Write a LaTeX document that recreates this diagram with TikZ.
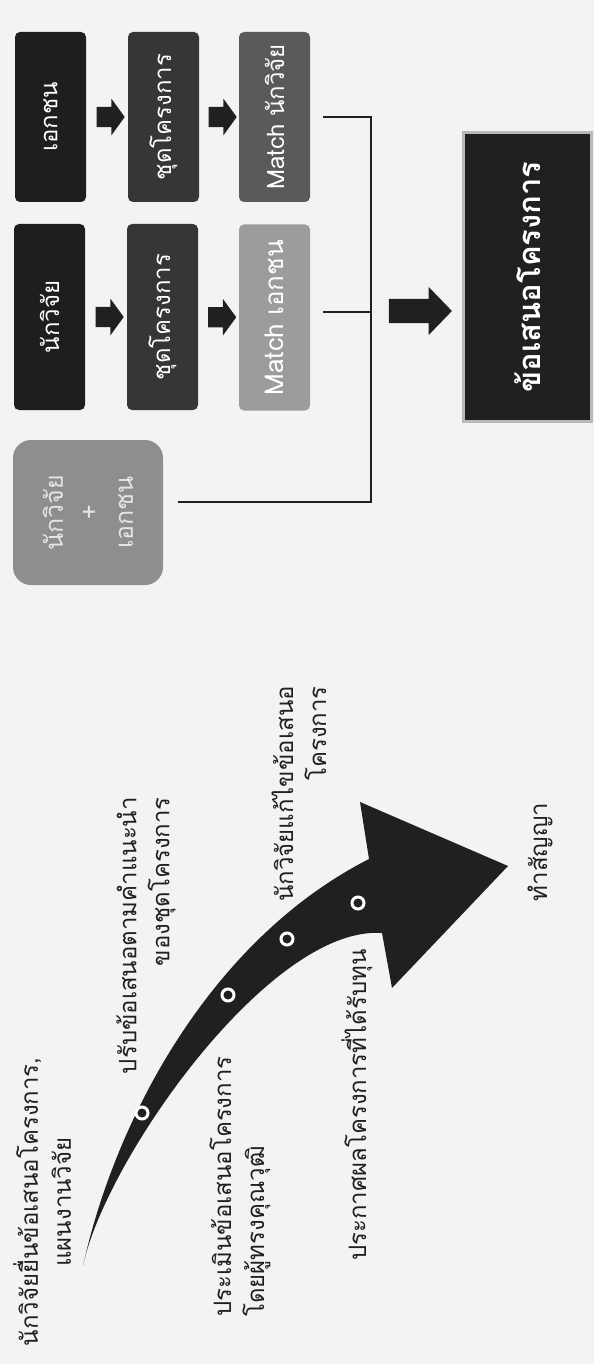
\documentclass[tikz,border=0pt]{standalone}
\usepackage{fontspec}
\newfontfamily\thaifont[Script=Thai]{Loma}
\usepackage{tikz}
\usetikzlibrary{calc,shapes.arrows}
\definecolor{paper}{HTML}{F1F3F4}
\definecolor{ink}{HTML}{202020}
\definecolor{boxa}{HTML}{1E1E1E}
\definecolor{boxb}{HTML}{363636}
\definecolor{boxc}{HTML}{5A5A5A}
\definecolor{boxd}{HTML}{9C9C9C}
\definecolor{boxe}{HTML}{8E8E8E}

\begin{document}
\begin{tikzpicture}[x=1pt,y=-1pt,
		box/.style={rotate=90,rounded corners=5pt,minimum height=71pt,inner sep=2pt,text=white,font=\thaifont\fontsize{24}{28}\selectfont},
		rowa/.style={box,minimum width=170pt},
		rowb/.style={box,minimum width=186pt},
		blk/.style={single arrow,fill=ink,inner xsep=0pt,inner ysep=10pt,single arrow head extend=8pt,single arrow tip angle=108,minimum height=28pt},
		bigblk/.style={single arrow,fill=ink,inner xsep=0pt,inner ysep=12pt,single arrow head extend=12pt,single arrow tip angle=92,minimum height=63pt},
		note/.style={rotate=90,text=ink,inner sep=0pt,font=\thaifont\fontsize{24}{33}\selectfont},
		link/.style={draw=ink,line width=2.7pt},
		ring/.style={draw=white,line width=3pt}]
		\path[use as bounding box,fill=paper] (0,0) rectangle (594,1364);
		
		%boxes
		\node[rowa,fill=boxa] (e1) at (50.5,117) {เอกชน};
		\node[rowa,fill=boxb] (e2) at (163.5,117) {ชุดโครงการ};
		\node[rowa,fill=boxc] (e3) at (274.5,117) {Match นักวิจัย};
		\node[rowb,fill=boxa] (n1) at (49.5,317) {นักวิจัย};
		\node[rowb,fill=boxb] (n2) at (162.5,317) {ชุดโครงการ};
		\node[rowb,fill=boxd,font=\thaifont\fontsize{26}{30}\selectfont] (n3) at (274.5,317.5) {Match เอกชน};
		\node[box,fill=boxe,minimum width=145pt,minimum height=150pt,rounded corners=18pt,align=center,text=white!90!black,font=\thaifont\fontsize{25}{35}\selectfont] (rp) at (88,512.5) {นักวิจัย\\+\\เอกชน};
		\node[rotate=90,fill=ink,draw=gray!55,line width=3pt,minimum width=289pt,minimum height=128pt,text=white,font=\thaifont\bfseries\fontsize{31}{36}\selectfont] (prop) at (527.5,277) {ข้อเสนอโครงการ};
		
		%arrows
		\node[blk] (a1) at ($(e1.south)!0.5!(e2.north)$) {};
		\node[blk] (a2) at ($(e2.south)!0.5!(e3.north)$) {};
		\node[blk] (a3) at ($(n1.south)!0.5!(n2.north)$) {};
		\node[blk] (a4) at ($(n2.south)!0.5!(n3.north)$) {};
		
		%bracket
		\coordinate (jm) at (371,312);
		\coordinate (jb) at (371,502);
		\draw[link] ([xshift=13pt]e3.south) -| (jb) -- ([xshift=15pt]rp.south |- jb);
		\draw[link] ([xshift=13pt]n3.south |- jm) -- (jm);
		\node[bigblk] (a5) at (414.5,311) {};
		
		%curved arrow
		\fill[ink] (83,1266) .. controls (115,1120) and (210,940) .. (369,859) -- (360,802) -- (508,866) -- (392,988) -- (382,933) .. controls (270,925) and (105,1160) .. cycle;
		\foreach \p in {(142,1113),(228,995),(287,939),(358,903)}{
			\draw[ring] \p circle (6);
		}
		
		%labels
		\node[note,align=center] (t1) at (42,1202) {นักวิจัยยื่นข้อเสนอโครงการ,\\แผนงานวิจัย};
		\node[note,align=right,anchor=east] (t2) at (146,797) {ปรับข้อเสนอตามคำแนะนำ\\ของชุดโครงการ};
		\node[note,align=left,anchor=west] (t3) at (240,1317) {ประเมินข้อเสนอโครงการ\\โดยผู้ทรงคุณวุฒิ};
		\node[note,align=right,anchor=east] (t4) at (299,686) {นักวิจัยแก้ไขข้อเสนอ\\โครงการ};
		\node[note] (t5) at (357,1105) {ประกาศผลโครงการที่ได้รับทุน};
		\node[note] (t6) at (540,852) {ทำสัญญา};
		
\end{tikzpicture}
\end{document}
